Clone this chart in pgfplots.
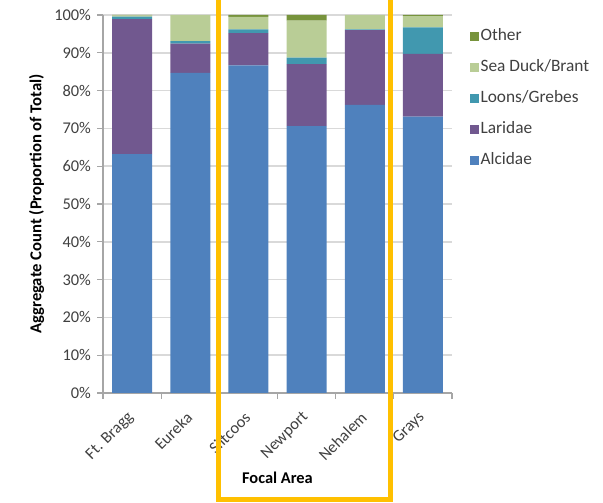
\documentclass[border=0pt]{standalone}
\usepackage{fontspec}
\setmainfont{Carlito}
\usepackage{pgfplots}
\pgfplotsset{compat=1.18}
\definecolor{alc}{HTML}{4F81BD}
\definecolor{lar}{HTML}{71588F}
\definecolor{loon}{HTML}{4198AF}
\definecolor{sea}{HTML}{B9CD96}
\definecolor{oth}{HTML}{77933C}
\definecolor{gridc}{HTML}{D9D9D9}
\definecolor{axc}{HTML}{A6A6A6}
\definecolor{txt}{HTML}{404040}
\definecolor{gold}{HTML}{FFC000}
\begin{document}
\begin{tikzpicture}
\useasboundingbox (0,0) rectangle (452.25pt,377.25pt);
\begin{axis}[
  at={(77.25pt,82.5pt)}, anchor=south west,
  scale only axis, width=261.75pt, height=283.5pt,
  ybar stacked, bar width=30pt,
  xmin=-0.5, xmax=5.5, ymin=0, ymax=100,
  enlargelimits=false,
  axis x line*=bottom, axis y line*=left,
  axis line style={draw=axc, line width=0.8pt},
  xtick={0,1,2,3,4,5},
  xticklabels={Ft. Bragg,Eureka,Siltcoos,Newport,Nehalem,Grays},
  minor xtick={-0.5,0.5,1.5,2.5,3.5,4.5,5.5},
  major x tick style={draw=none},
  minor x tick style={draw=axc, line width=0.8pt},
  ytick={0,10,...,100},
  yticklabel={\pgfmathprintnumber{\tick}\%},
  /pgf/number format/assume math mode=true,
  tick align=outside,
  major tick length=4.5pt, minor tick length=4.5pt,
  y tick style={draw=axc, line width=0.8pt},
  ymajorgrids, grid style={draw=gridc, line width=1.1pt},
  tick label style={font=\fontsize{12.3}{14}\selectfont, text=txt},
  xticklabel style={rotate=45, anchor=east, xshift=-5.4pt, yshift=-8pt},
  yticklabel style={xshift=-1pt},
  xlabel={\textbf{Focal Area}},
  xlabel style={font=\fontsize{12.3}{14}\selectfont, at={(axis description cs:0.5,-0.225)}, anchor=center},
  ylabel={\textbf{Aggregate Count (Proportion of Total)}},
  ylabel style={font=\fontsize{12.5}{14}\selectfont, at={(axis description cs:-0.19,0.5)}, anchor=center, rotate=0},
  legend style={at={(1.052,0.779)}, anchor=west, draw=none, fill=none, inner sep=0pt,
    font=\fontsize{13}{15}\selectfont, text=txt,
    nodes={inner sep=1pt, text height=9pt, text depth=2.5pt},
    row sep=9.75pt},
  legend cell align=left,
  reverse legend,
  legend image code/.code={\fill[#1] (0pt,-3.2pt) rectangle (6.6pt,3.4pt);},
]
\addplot[fill=alc, draw=none] coordinates {(0,63.2) (1,84.7) (2,86.7) (3,70.6) (4,76.2) (5,73.1)};
\addplot[fill=lar, draw=none] coordinates {(0,35.7) (1,7.7) (2,8.5) (3,16.4) (4,19.8) (5,16.6)};
\addplot[fill=loon, draw=none] coordinates {(0,0.7) (1,0.7) (2,1.0) (3,1.7) (4,0.2) (5,7.0)};
\addplot[fill=sea, draw=none] coordinates {(0,0.3) (1,6.9) (2,3.3) (3,9.8) (4,3.8) (5,3.0)};
\addplot[fill=oth, draw=none] coordinates {(0,0.1) (1,0.0) (2,0.5) (3,1.5) (4,0.0) (5,0.3)};
\legend{Alcidae,Laridae,Loons/Grebes,Sea Duck/Brant,Other}
\end{axis}
\draw[gold, line width=3.75pt, line join=miter] (163.9pt,390pt) -- (163.9pt,2.25pt) -- (292.9pt,2.25pt) -- (292.9pt,390pt);
\end{tikzpicture}
\end{document}
